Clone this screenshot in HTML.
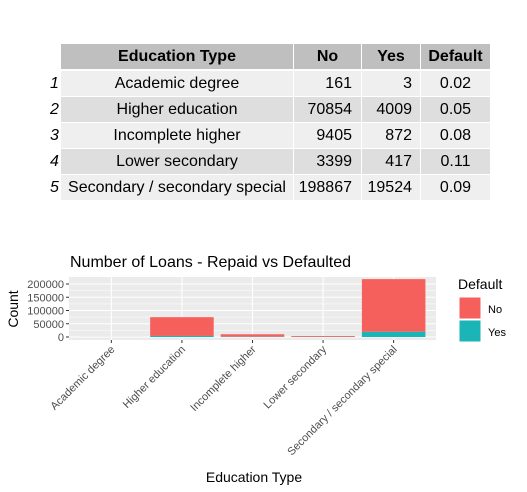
<!DOCTYPE html>
<html><head><meta charset="utf-8"><style>
body{margin:0;width:527px;height:492px;background:#fff;font-family:"Liberation Sans",Arial,sans-serif;position:relative;overflow:hidden}
.c{position:absolute;height:25px;line-height:25px;font-size:16px;color:#000}
.rn{position:absolute;font-style:italic;font-size:16px;line-height:25px;height:25px}
</style></head><body>
<div id="tbl"></div>
<svg id="ch" width="527" height="492" style="position:absolute;left:0;top:0"></svg>
<script>
const eduTypes=["Academic degree","Higher education","Incomplete higher","Lower secondary","Secondary / secondary special"];
const noCounts=[161,70854,9405,3399,198867];
const yesCounts=[3,4009,872,417,19524];
const defaultRates=["0.02","0.05","0.08","0.11","0.09"];
const yTicks=[0,50000,100000,150000,200000];

// table
const tbl=document.getElementById('tbl');
const cols=[{x:61,w:232,a:'center',p:0},{x:294,w:67,a:'right',p:9},{x:362,w:58,a:'right',p:8},{x:421,w:69,a:'center',p:0}];
const heads=["Education Type","No","Yes","Default"];
function cell(x,y,w,txt,bg,align,bold,pad,name){
  const d=document.createElement('div');d.className='c';
  
  
  d.style.left=x+'px';d.style.top=y+'px';d.style.width=(w-pad)+'px';
  d.style.paddingRight=pad+'px';
  d.style.background=bg;d.style.textAlign=align;if(bold)d.style.fontWeight='bold';
  d.textContent=txt;tbl.appendChild(d);
}
heads.forEach((h,i)=>cell(cols[i].x,44,cols[i].w,h,'#bfbfbf','center',true,0,'table-header'));
for(let r=0;r<eduTypes.length;r++){
  const y=71+r*26;const bg=r%2===0?'#efefef':'#dedede';
  const vals=[eduTypes[r],String(noCounts[r]),String(yesCounts[r]),defaultRates[r]];
  vals.forEach((v,i)=>cell(cols[i].x,y,cols[i].w,v,bg,cols[i].a,false,cols[i].p,'table-cell'));
  const n=document.createElement('div');n.className='rn';
  
  
  n.style.left='50px';n.style.top=y+'px';n.textContent=r+1;tbl.appendChild(n);
}

// chart
const svg=document.getElementById('ch');const NS='http://www.w3.org/2000/svg';
function el(t,a,name){const e=document.createElementNS(NS,t);for(const k in a)e.setAttribute(k,a[k]);
  
  
  svg.appendChild(e);return e;}
const PL=69,PR=436,PT=277,PB=340,Y0=337,YPX=(337-284)/200000;
const step=(PR-PL)/(eduTypes.length+0.2);
const xS=i=>PL+step*(0.6+i);
const yS=v=>Y0-v*YPX;
el('rect',{x:PL,y:PT,width:PR-PL,height:PB-PT,fill:'#ebebeb'},'plot-panel');
for(let i=0;i<yTicks.length-1;i++){const m=yS((yTicks[i]+yTicks[i+1])/2);
  el('line',{x1:PL,x2:PR,y1:m,y2:m,stroke:'#fff','stroke-width':0.6},'minor-gridline');}
yTicks.forEach(t=>{const y=yS(t);
  el('line',{x1:PL,x2:PR,y1:y,y2:y,stroke:'#fff','stroke-width':1.1},'gridline');
  el('line',{x1:PL-3,x2:PL,y1:y,y2:y,stroke:'#333'},'y-tick');
  const tx=el('text',{x:PL-5,y:y+4,'text-anchor':'end','font-size':11,fill:'#4d4d4d'},'y-tick-label');tx.textContent=t;});
eduTypes.forEach((c,i)=>{const x=xS(i);
  el('line',{x1:x,x2:x,y1:PT,y2:PB,stroke:'#fff','stroke-width':1.1},'gridline');
  el('line',{x1:x,x2:x,y1:PB,y2:PB+3,stroke:'#333'},'x-tick');
  const tx=el('text',{x:x+4,y:PB+10,'text-anchor':'end','font-size':11,fill:'#4d4d4d',transform:`rotate(-45 ${x+4} ${PB+10})`},'x-tick-label');tx.textContent=c;});
const bw=step*0.9;
eduTypes.forEach((c,i)=>{const x=xS(i)-bw/2;const tot=noCounts[i]+yesCounts[i];
  el('rect',{x:x,y:yS(tot),width:bw,height:yS(yesCounts[i])-yS(tot),fill:'#f5605d'},'bar-no');
  el('rect',{x:x,y:yS(yesCounts[i]),width:bw,height:Y0-yS(yesCounts[i]),fill:'#1bb5b8'},'bar-yes');});
let t=el('text',{x:70,y:267,'font-size':16,fill:'#000'},'chart-title');t.textContent='Number of Loans - Repaid vs Defaulted';
t=el('text',{x:18,y:309,'font-size':14,fill:'#000','text-anchor':'middle',transform:'rotate(-90 18 309)'},'y-axis-title');t.textContent='Count';
t=el('text',{x:254,y:482,'font-size':14,fill:'#000','text-anchor':'middle'},'x-axis-title');t.textContent='Education Type';
t=el('text',{x:458,y:289,'font-size':14,fill:'#000'},'legend-title');t.textContent='Default';
el('rect',{x:459,y:297,width:22,height:22,fill:'#f5605d',stroke:'#fff'},'legend-key-no');
el('rect',{x:459,y:320,width:22,height:22,fill:'#1bb5b8',stroke:'#fff'},'legend-key-yes');
t=el('text',{x:488,y:313,'font-size':11,fill:'#000'},'legend-label-no');t.textContent='No';
t=el('text',{x:488,y:336,'font-size':11,fill:'#000'},'legend-label-yes');t.textContent='Yes';
</script>
</body></html>
